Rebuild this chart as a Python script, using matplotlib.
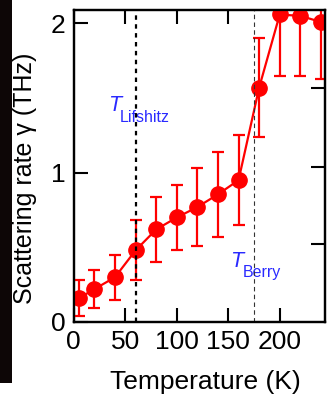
import numpy as np
import matplotlib
matplotlib.use("Agg")
import matplotlib.pyplot as plt
from matplotlib.patches import Rectangle

plt.rcParams["font.family"] = ["Liberation Sans", "DejaVu Sans"]

# data
temperature = [5, 20, 40, 60, 80, 100, 120, 140, 160, 180, 200, 220, 240]
gamma = [0.16, 0.22, 0.30, 0.48, 0.62, 0.70, 0.77, 0.855, 0.95, 1.57, 2.06, 2.05, 2.01]
gamma_err = [0.12, 0.125, 0.15, 0.20, 0.22, 0.22, 0.26, 0.285, 0.30, 0.33, 0.41, 0.40, 0.38]

x_ticks = [0, 50, 100, 150, 200]
y_ticks = [0, 1, 2]
right_ticks = [0.52, 1.04, 1.57]
t_lifshitz = 60
t_berry = 175

red = "#ff0000"
blue = "#2a2aff"

fig = plt.figure(figsize=(3.28, 3.99), dpi=100)
ax = fig.add_axes([0.225, 0.193, 0.766, 0.782])

# dark strip on the left edge of the original crop
fig.patches.append(Rectangle((0, 0.04), 0.037, 0.96, transform=fig.transFigure,
                             facecolor="#0d0606", edgecolor="none", zorder=0))

ax.errorbar(temperature, gamma, yerr=gamma_err, color=red, lw=1.6,
            marker="o", ms=11, mec=red, mfc=red, elinewidth=1.6,
            capsize=4.5, capthick=1.6, zorder=3)

ax.axvline(t_lifshitz, color="black", lw=1.6, ls=(0, (2.0, 2.0)), zorder=4)
ax.axvline(t_berry, color="#333333", lw=0.8, ls=(0, (4, 3)), zorder=4)

ax.text(33, 1.41, "T", style="italic", color=blue, fontsize=15.5, va="baseline")
ax.text(45, 1.34, "Lifshitz", color=blue, fontsize=11.5, va="baseline")
ax.text(152, 0.37, "T", style="italic", color=blue, fontsize=15.5, va="baseline")
ax.text(164, 0.30, "Berry", color=blue, fontsize=11.5, va="baseline")

ax.set_xlim(0, 244)
ax.set_ylim(0, 2.09)
ax.set_xticks(x_ticks)
ax.set_yticks(y_ticks)
ax.tick_params(direction="in", length=10, width=1.5, labelsize=19,
               top=True, right=False, pad=6)
ax.tick_params(axis="x", labeltop=False)

ax_r = ax.twinx()
ax_r.set_ylim(ax.get_ylim())
ax_r.set_yticks(right_ticks)
ax_r.tick_params(direction="in", length=10, width=1.5, labelright=False)

for a in (ax, ax_r):
    for s in a.spines.values():
        s.set_linewidth(1.6)

ax.set_xlabel("Temperature (K)", fontsize=19)
ax.set_ylabel("Scattering rate γ (THz)", fontsize=18)
ax.xaxis.set_label_coords(0.523, -0.153)
ax.yaxis.set_label_coords(-0.145, 0.46)

fig.savefig("out.png", dpi=100)
